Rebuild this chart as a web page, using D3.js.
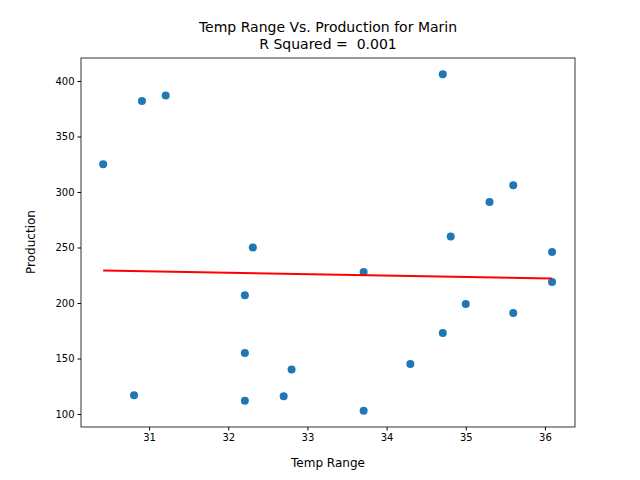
<!DOCTYPE html>
<html>
<head>
<meta charset="UTF-8">
<style>
  body { margin: 0; background: white; }
  text { font-family: "DejaVu Sans", sans-serif; }
</style>
</head>
<body>
<svg></svg>
<script src="https://d3js.org/d3.v7.min.js"></script>
<script>
// data
let tempRange = [30.42, 30.91, 31.21, 30.81, 32.21, 32.31, 32.21, 32.21, 32.70, 32.80, 33.71,
                 33.71, 34.30, 34.71, 34.81, 34.71, 35.00, 35.30, 35.60, 35.60, 36.09, 36.09];
let production = [325, 382, 387, 117, 207, 250, 155, 112, 116, 140, 228,
                  103, 145, 406, 260, 173, 199, 291, 306, 191, 246, 219];
let xTicks = [31, 32, 33, 34, 35, 36];
let yTicks = [100, 150, 200, 250, 300, 350, 400];

let width = 640, height = 480;
let svg = d3.select("svg").attr("width", width).attr("height", height);

let x = d3.scaleLinear().domain([30.14, 36.38]).range([81, 575]);
let y = d3.scaleLinear().domain([88.3, 420.7]).range([427, 58]);

// least squares fit
let mx = d3.mean(tempRange), my = d3.mean(production);
let sxy = d3.sum(tempRange, (v, i) => (v - mx) * (production[i] - my));
let sxx = d3.sum(tempRange, v => (v - mx) * (v - mx));
let syy = d3.sum(production, v => (v - my) * (v - my));
let slope = sxy / sxx, icpt = my - slope * mx;
let r2 = (sxy * sxy) / (sxx * syy);

svg.append("g").attr("transform", "translate(0,427)")
  .call(d3.axisBottom(x).tickValues(xTicks).tickFormat(d3.format("d")).tickSize(3.5).tickPadding(3))
  .call(g => g.selectAll("text").attr("font-size", 10).attr("fill", "black"));
svg.append("g").attr("transform", "translate(81,0)")
  .call(d3.axisLeft(y).tickValues(yTicks).tickFormat(d3.format("d")).tickSize(3.5).tickPadding(3))
  .call(g => g.selectAll("text").attr("font-size", 10).attr("fill", "black"));
svg.selectAll(".domain").remove();
svg.append("rect").attr("x", 81).attr("y", 58).attr("width", 494).attr("height", 369)
  .attr("fill", "none").attr("stroke", "black").attr("stroke-width", 0.8);

svg.append("g").selectAll("circle").data(tempRange).enter().append("circle")
  .attr("cx", d => x(d)).attr("cy", (d, i) => y(production[i])).attr("r", 4)
  .attr("fill", "#1f77b4");

let xs = d3.extent(tempRange);
svg.append("line")
  .attr("x1", x(xs[0])).attr("y1", y(slope * xs[0] + icpt))
  .attr("x2", x(xs[1])).attr("y2", y(slope * xs[1] + icpt))
  .attr("stroke", "red").attr("stroke-width", 2);

svg.append("text").attr("x", 328).attr("y", 32).attr("text-anchor", "middle")
  .attr("font-size", 14).text("Temp Range Vs. Production for Marin");
svg.append("text").attr("x", 328).attr("y", 49).attr("text-anchor", "middle")
  .attr("font-size", 14).text("R Squared =\u00a0 " + r2.toFixed(3));
svg.append("text").attr("x", 328).attr("y", 467).attr("text-anchor", "middle")
  .attr("font-size", 12).text("Temp Range");
svg.append("text").attr("transform", "translate(35,242) rotate(-90)").attr("text-anchor", "middle")
  .attr("font-size", 12).text("Production");
</script>
</body>
</html>
